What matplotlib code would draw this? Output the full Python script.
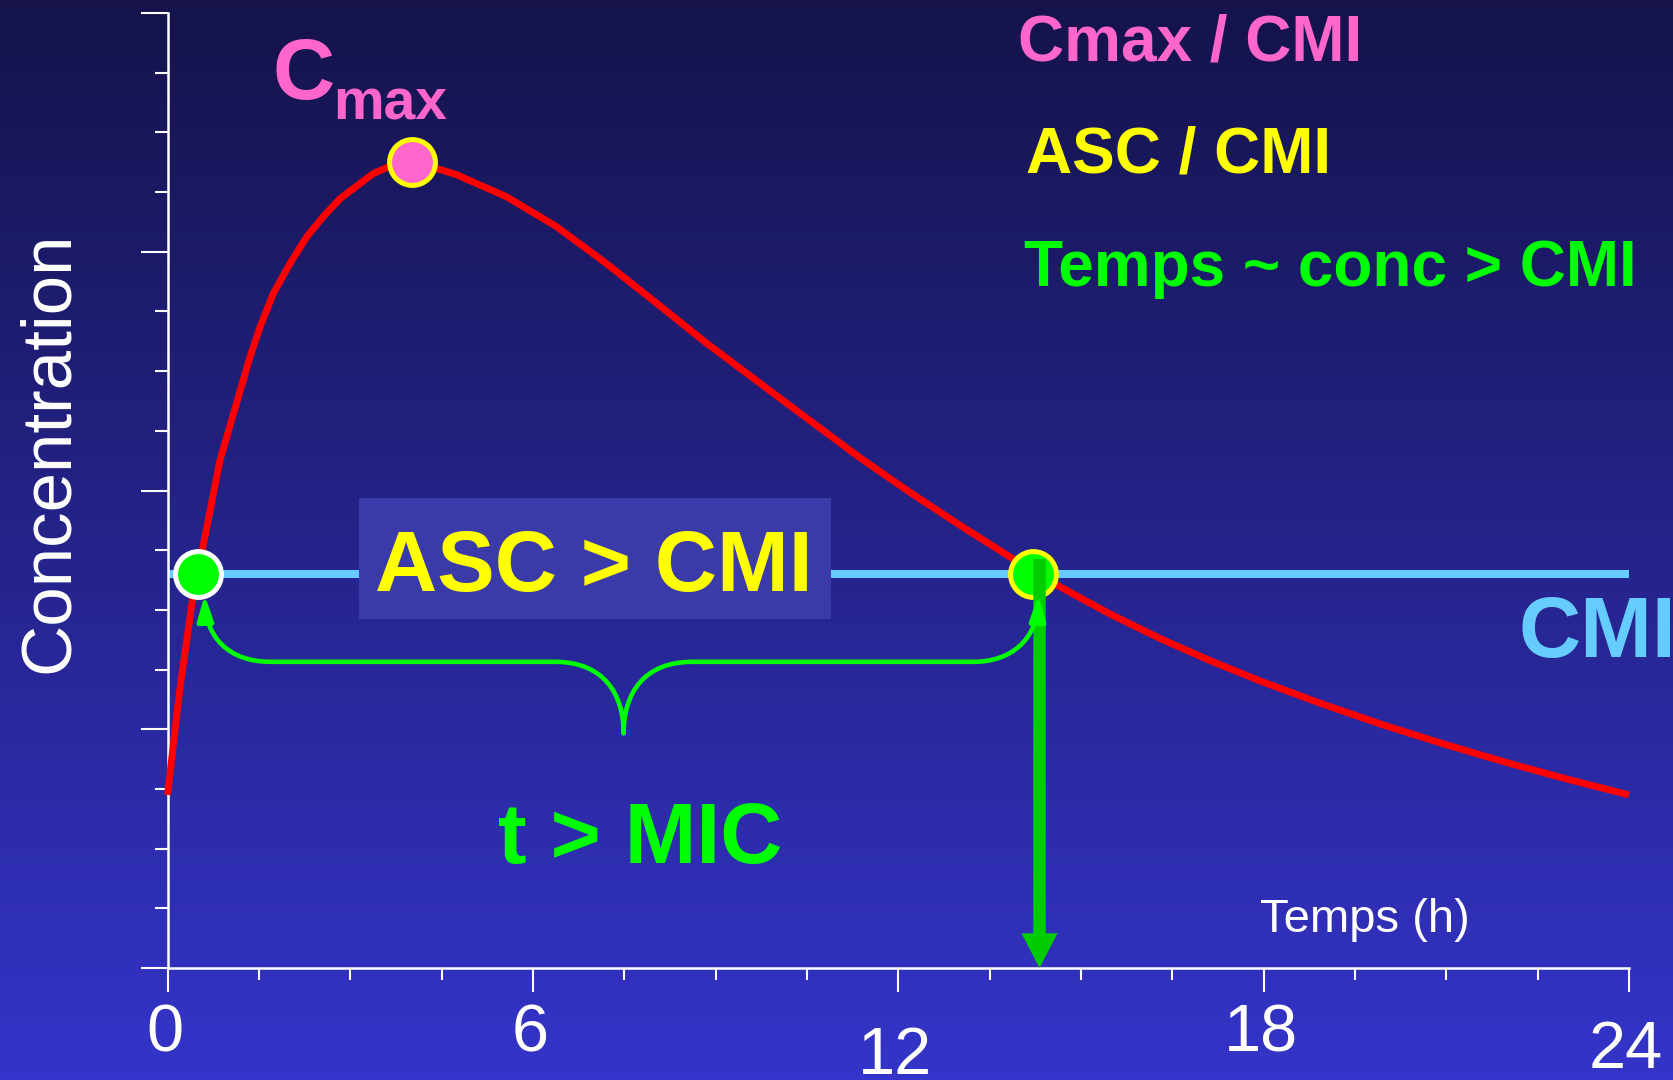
import numpy as np
import matplotlib.pyplot as plt
from matplotlib.path import Path
from matplotlib.patches import FancyArrowPatch, Rectangle
from matplotlib.ticker import MultipleLocator

plt.rcParams['font.family'] = ['Liberation Sans', 'DejaVu Sans']

# ---------------------------------------------------------------- data
# concentration curve (time in h, conc in y-tick units)
time_h = [0, 0.2, 0.4, 0.6, 0.86, 1.355, 1.52, 1.737, 2.01, 2.286, 2.56,
          2.833, 3.379, 3.65, 4.02, 4.47, 4.749, 5.57, 6.39, 7.21, 8.03, 8.85,
          10.17, 11.37, 12.19, 13.01, 13.83, 14.65, 15.48, 16.3, 17.12, 17.94,
          19.0, 20.0, 21.0, 22.0, 23.0, 24]
conc = [2.9, 4.65, 6.1, 7.15, 8.5, 10.24, 10.74, 11.3, 11.8, 12.25, 12.59,
        12.89, 13.31, 13.43, 13.49, 13.38, 13.29, 12.92, 12.42, 11.8, 11.14,
        10.47, 9.46, 8.55, 7.97, 7.42, 6.89, 6.39, 5.93, 5.52, 5.15, 4.81,
        4.41, 4.06, 3.74, 3.44, 3.16, 2.9]
cmi = 6.6
cmax_t, cmax_c = 4.02, 13.51
cross_t = [0.5, 14.22]
arrow_t = 14.32

xtick_vals = [0, 6, 12, 18, 24]
xtick_labels = ['0', '6', '12', '18', '24']
ytick_vals = [0, 4, 8, 12, 16]

# ---------------------------------------------------------------- layout
W, H = 1673, 1080
label_drop_px = [83, 83, 106, 83, 100]   # quirky label heights of the slide


def fp(x, y):
    return x / W, 1 - y / H


fig = plt.figure(figsize=(W / 100, H / 100), dpi=100)

# background gradient
bg = fig.add_axes([0, 0, 1, 1], zorder=-1)
grad = np.linspace(0, 1, 256)[:, None, None]
top = np.array([21, 19, 74]) / 255
bot = np.array([52, 52, 202]) / 255
bg.imshow(top + (bot - top) * grad, aspect='auto', extent=[0, 1, 0, 1])
bg.axis('off')

ax = fig.add_axes([167.5 / W, 1 - 968 / H, (1629 - 167.5) / W, (968 - 13) / H])
ax.set_facecolor('none')
ax.set_xlim(0, 24)
ax.set_ylim(0, 16)
for s in ['top', 'right']:
    ax.spines[s].set_visible(False)
for s in ['left', 'bottom']:
    ax.spines[s].set_color('white')
    ax.spines[s].set_linewidth(1.8)
ax.set_xticks(xtick_vals)
ax.set_yticks(ytick_vals)
ax.xaxis.set_minor_locator(MultipleLocator(1.5))
ax.yaxis.set_minor_locator(MultipleLocator(1))
ax.tick_params(axis='x', which='major', length=17, width=1.5, color='white')
ax.tick_params(axis='x', which='minor', length=8.6, width=1.5, color='white')
ax.tick_params(axis='y', which='major', length=19.4, width=1.5, color='white')
ax.tick_params(axis='y', which='minor', length=9.4, width=1.5, color='white')
ax.tick_params(labelbottom=False, labelleft=False)

for v, lab, drop in zip(xtick_vals, xtick_labels, label_drop_px):
    ax.annotate(lab, xy=(v, 0), xytext=(-3, -drop), textcoords='offset pixels',
                ha='center', va='baseline', color='white', fontsize=48,
                annotation_clip=False)

# ---------------------------------------------------------------- marks
ax.plot([0, 24], [cmi, cmi], color='#66CCFF', lw=5.8, solid_capstyle='butt',
        zorder=2)
ax.add_patch(Rectangle((3.15, 5.85), 10.9 - 3.15, 7.87 - 5.85,
                       facecolor='#3A3AA8', edgecolor='none', zorder=2.5))
ax.plot(time_h, conc, color='#FF0000', lw=5.0, solid_capstyle='butt',
        solid_joinstyle='round', zorder=3, clip_on=False)

ax.plot([cmax_t], [cmax_c], 'o', ms=33, mfc='#FF66CC', mec='#FFFF00', mew=3.6,
        zorder=5, clip_on=False)
ax.plot([cross_t[0]], [cmi], 'o', ms=33, mfc='#00FF00', mec='white', mew=3.6,
        zorder=5, clip_on=False)
ax.plot([cross_t[1]], [cmi], 'o', ms=33, mfc='#00FF00', mec='#FFFF00', mew=3.6,
        zorder=5, clip_on=False)

# vertical arrow down to the time axis
ax.annotate('', xy=(arrow_t, 0), xytext=(arrow_t, 6.85),
            arrowprops=dict(arrowstyle='simple,head_length=0.5,head_width=0.52,tail_width=0.18',
                            mutation_scale=50, color='#00CC00', lw=0,
                            shrinkA=0, shrinkB=0),
            zorder=6, annotation_clip=False)

# curly brace between the two crossings
C4, LT, MT = Path.CURVE4, Path.LINETO, Path.MOVETO
brace_pts = [(0.61, 6.25), (0.63, 5.55), (1.0, 5.13), (1.69, 5.13),
             (6.36, 5.13),
             (7.16, 5.13), (7.49, 4.6), (7.49, 3.93),
             (7.49, 4.6), (7.82, 5.13), (8.62, 5.13),
             (13.24, 5.13),
             (13.85, 5.13), (14.28, 5.5), (14.3, 6.25)]
brace_codes = [MT, C4, C4, C4, LT, C4, C4, C4, C4, C4, C4, LT, C4, C4, C4]
ax.add_patch(FancyArrowPatch(path=Path(brace_pts, brace_codes),
                             arrowstyle='<|-|>,head_length=0.38,head_width=0.12',
                             mutation_scale=40, color='#00FF00', lw=3.3,
                             zorder=6))

# ---------------------------------------------------------------- texts
fig.text(*fp(68, 452), 'Concentration', rotation=90, rotation_mode='anchor',
         ha='center', va='baseline', fontsize=51, color='white')
fig.text(*fp(1365, 932), 'Temps (h)', ha='center', va='baseline', fontsize=34,
         color='white')

bold = dict(fontweight='bold', va='baseline')
fig.text(*fp(272, 99), 'C', color='#FF66CC', fontsize=62, ha='left', **bold)
fig.text(*fp(333, 119), 'max', color='#FF66CC', fontsize=41, ha='left', **bold)
fig.text(*fp(1018, 61), 'Cmax / CMI', color='#FF66CC', fontsize=46, ha='left', **bold)
fig.text(*fp(1026, 173), 'ASC / CMI', color='#FFFF00', fontsize=46, ha='left', **bold)
fig.text(*fp(1024, 286), 'Temps ~ conc > CMI', color='#00FF00', fontsize=46,
         ha='left', **bold)
fig.text(*fp(594, 591), 'ASC > CMI', color='#FFFF00', fontsize=62, ha='center', **bold)
fig.text(*fp(1519, 657), 'CMI', color='#66CCFF', fontsize=62, ha='left', **bold)
fig.text(*fp(640, 863), 't > MIC', color='#00FF00', fontsize=62, ha='center', **bold)

fig.savefig('out.png', dpi=100)
